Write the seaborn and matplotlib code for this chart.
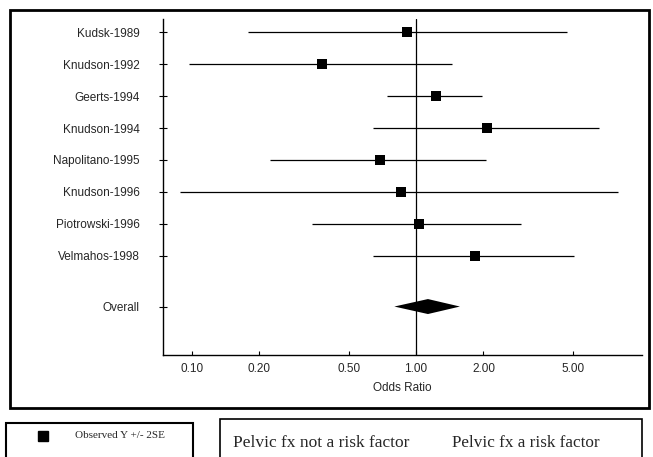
import matplotlib
matplotlib.use("Agg")
import matplotlib.pyplot as plt
from matplotlib.patches import Rectangle
from matplotlib.lines import Line2D
import seaborn as sns
import pandas as pd

studies = ["Kudsk-1989", "Knudson-1992", "Geerts-1994", "Knudson-1994",
           "Napolitano-1995", "Knudson-1996", "Piotrowski-1996", "Velmahos-1998"]
odds = [0.91, 0.38, 1.23, 2.07, 0.69, 0.86, 1.03, 1.83]
lower = [0.178, 0.097, 0.74, 0.64, 0.223, 0.088, 0.343, 0.64]
upper = [4.72, 1.45, 1.97, 6.56, 2.05, 7.96, 2.94, 5.07]
overall_label = "Overall"
overall_or = 1.13
overall_lo = 0.80
overall_hi = 1.57
xticks = [0.10, 0.20, 0.50, 1.00, 2.00, 5.00]
xtick_labels = ["0.10", "0.20", "0.50", "1.00", "2.00", "5.00"]

sns.set_theme(style="white")
plt.rcParams["font.family"] = ["Liberation Sans", "DejaVu Sans"]

W, H = 653, 457
fig = plt.figure(figsize=(W / 100, H / 100), dpi=100)
ax = fig.add_axes([163 / W, 1 - 355 / H, (642 - 163) / W, (355 - 19) / H])

ypos = list(range(1, len(studies) + 1))
overall_y = len(studies) + 1.6
df = pd.DataFrame({"study": studies, "odds": odds, "lower": lower,
                   "upper": upper, "y": ypos})

ax.hlines(df["y"], df["lower"], df["upper"], color="black", lw=0.9, zorder=2)
sns.scatterplot(data=df, x="odds", y="y", marker="s", s=60, color="black",
                edgecolor="black", linewidth=0, ax=ax, zorder=3, legend=False)

dh = 0.235
ax.fill([overall_lo, overall_or, overall_hi, overall_or],
        [overall_y, overall_y - dh, overall_y, overall_y + dh],
        color="black", lw=0, zorder=3)

ax.axvline(1.0, color="black", lw=0.9, zorder=1)

ax.set_xscale("log")
ax.set_xlim(0.0742, 10.2)
ax.set_ylim(11.12, 0.58)
ax.set_xticks(xticks)
ax.set_xticklabels(xtick_labels)
ax.minorticks_off()
ax.set_yticks(ypos + [overall_y])
ax.set_yticklabels(studies + [overall_label])
ax.set_ylabel("")

for s in ["top", "right"]:
    ax.spines[s].set_visible(False)
for s in ["left", "bottom"]:
    ax.spines[s].set_color("black")
    ax.spines[s].set_linewidth(1.0)

ax.tick_params(axis="y", direction="inout", length=6, width=0.8, color="black",
               labelsize=8.5, pad=14, left=True)
ax.tick_params(axis="x", direction="in", length=3, width=0.8, color="black",
               labelsize=8.5, pad=6, bottom=True)
ax.set_xlabel("Odds Ratio", fontsize=8.5, labelpad=5)
ax.grid(False)

# outer frame
fig.patches.append(Rectangle((10 / W, 1 - 408 / H), 639 / W, 398 / H,
                             transform=fig.transFigure, fill=False,
                             ec="black", lw=2.0, zorder=10))
# legend boxes
fig.patches.append(Rectangle((6 / W, -0.05), 187 / W, (457 - 423) / H + 0.05,
                             transform=fig.transFigure, fill=False,
                             ec="black", lw=1.5))
fig.patches.append(Rectangle((220 / W, -0.05), 422 / W, (457 - 419) / H + 0.05,
                             transform=fig.transFigure, fill=False,
                             ec="black", lw=1.2))
fig.add_artist(Line2D([43 / W], [1 - 436 / H], marker="s", markersize=7,
                      color="black", transform=fig.transFigure))
fig.text(75 / W, 1 - 435 / H, "Observed Y +/- 2SE", fontsize=8,
         family="Liberation Serif", va="center", ha="left")
fig.text(233 / W, 1 - 443 / H, "Pelvic fx not a risk factor", fontsize=12.5,
         family="Liberation Serif", va="center", ha="left")
fig.text(452 / W, 1 - 443 / H, "Pelvic fx a risk factor", fontsize=12.3,
         family="Liberation Serif", va="center", ha="left")

fig.savefig("out.png", dpi=100)
